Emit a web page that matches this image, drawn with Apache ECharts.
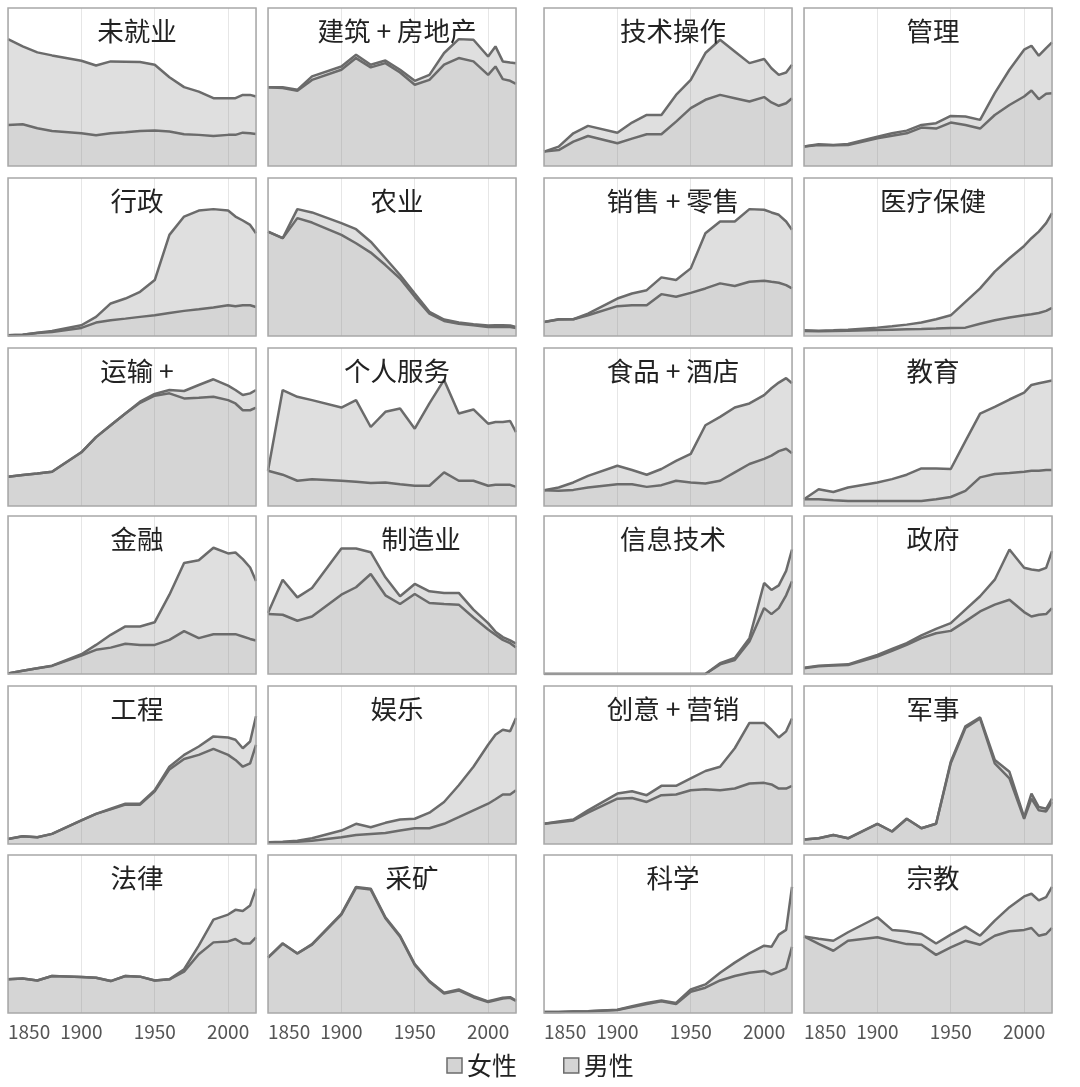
<!DOCTYPE html>
<html>
<head>
<meta charset="utf-8">
<script src="https://cdn.jsdelivr.net/npm/echarts@6/dist/echarts.min.js"></script>
<style>
html,body{margin:0;padding:0;background:#fff;}
#chart{width:1080px;height:1087px;}
</style>
</head>
<body>
<div id="chart"></div>
<script>
// ---- data (share of panel height) ----
const years = [1850,1860,1870,1880,1900,1910,1920,1930,1940,1950,1960,1970,1980,1990,2000,2005,2010,2015,2019];
const xTicks = [1850,1900,1950,2000];
const legendNames = ['女性','男性'];

const titles = ['未就业','建筑 + 房地产','技术操作','管理',
                '行政','农业','销售 + 零售','医疗保健',
                '运输 +','个人服务','食品 + 酒店','教育',
                '金融','制造业','信息技术','政府',
                '工程','娱乐','创意 + 营销','军事',
                '法律','采矿','科学','宗教'];

const unemployedMen = [26.0,26.4,23.9,22.2,20.7,19.5,20.7,21.4,22.2,22.4,21.8,20.1,19.7,19.0,19.7,19.7,21.1,20.7,20.3];
const unemployedWomen = [54.3,49.3,48.0,47.8,45.9,44.1,45.5,44.6,43.6,41.7,34.4,29.8,27.4,23.9,23.2,23.2,23.9,24.3,23.7];
const constructionMen = [49.9,49.3,47.6,54.5,60.9,68.3,62.4,65.1,59.2,51.4,54.5,64.1,68.3,66.2,57.7,63.0,55.0,53.9,52.0];
const constructionWomen = [0.0,0.6,0.6,2.2,2.1,2.1,1.7,1.7,1.7,2.5,3.2,7.4,12.0,13.7,11.6,12.7,11.2,11.6,13.1];
const technicalMen = [9.1,10.1,15.4,19.0,14.4,17.3,20.1,20.1,28.1,36.6,41.9,45.0,42.9,40.8,43.6,40.2,38.1,39.7,42.9];
const technicalWomen = [0.0,2.2,5.3,6.4,6.7,10.2,12.2,12.2,16.9,17.9,29.6,34.9,29.6,24.3,24.1,21.7,19.6,19.5,21.2];
const managementMen = [12.3,13.3,13.1,13.3,17.5,19.2,20.7,24.3,23.7,27.5,26.0,23.7,32.3,38.6,44.0,47.8,42.3,45.7,46.1];
const managementWomen = [0.0,0.4,0.2,0.7,1.1,1.5,1.7,1.7,3.4,4.2,5.3,5.5,13.8,22.3,29.6,28.3,27.5,28.9,32.1];
const adminMen = [0.4,0.8,1.9,2.5,5.1,8.5,10.0,11.0,12.1,13.1,14.6,15.9,16.9,18.0,19.5,18.9,19.5,19.5,18.4];
const adminWomen = [0.0,0.0,0.2,0.7,1.7,3.6,10.6,12.7,15.9,22.3,49.4,59.7,62.5,62.3,59.9,56.7,53.6,50.8,46.6];
const farmMen = [66.1,61.9,74.6,71.8,64.0,58.7,52.8,44.9,36.4,24.8,14.2,9.5,7.8,6.8,5.7,5.7,5.7,5.7,5.1];
const farmWomen = [0.0,0.0,5.7,6.4,7.4,8.9,6.9,4.3,2.2,2.1,1.1,0.9,0.7,0.6,0.9,1.1,1.1,0.9,0.6];
const salesMen = [8.9,10.4,10.6,13.1,18.9,19.5,19.5,26.5,24.8,27.3,30.1,33.3,31.6,34.3,35.0,34.3,33.7,32.2,30.1];
const salesWomen = [0.0,0.2,0.0,1.1,4.8,7.4,9.5,10.6,10.6,15.5,34.9,39.2,40.9,46.0,44.9,43.9,43.0,40.3,37.1];
const healthMen = [3.2,3.0,3.2,3.4,3.8,4.0,4.2,4.4,4.7,5.1,5.3,7.8,10.0,11.7,13.1,13.8,14.6,15.9,17.8];
const healthWomen = [0.4,0.4,0.4,0.6,1.5,2.1,3.0,4.1,5.9,8.0,16.3,22.3,30.7,37.5,43.9,48.1,51.5,55.5,60.0];
const transportMen = [18.5,19.6,20.6,21.7,34.0,43.6,51.1,58.5,65.3,69.8,71.3,68.1,68.5,69.1,67.0,64.9,60.6,60.6,62.3];
const transportWomen = [0,0,0,0,0,0,0,0,0.7,1.1,2.1,4.7,8.1,11.1,9.2,8.5,9.6,10.7,11.1];
const personalMen = [22.3,19.8,16.0,17.0,16.0,15.3,14.5,14.9,13.8,12.8,12.8,21.3,16.0,16.0,12.8,13.4,13.4,13.4,12.1];
const personalWomen = [0.0,53.6,53.1,50.0,46.3,51.7,35.5,44.7,47.9,36.1,52.2,58.5,42.5,45.1,39.3,39.8,39.8,40.4,34.7];
const foodMen = [10.0,9.6,10.2,11.7,13.8,13.8,12.1,13.2,16.0,14.9,14.3,16.0,21.3,26.6,29.8,31.9,34.7,36.2,33.4];
const foodWomen = [0.0,2.1,4.7,7.4,11.7,9.0,7.7,10.2,12.5,18.1,36.8,40.4,41.0,38.3,40.4,42.6,43.4,44.7,44.3];
const educationMen = [4.3,4.3,3.6,3.2,3.2,3.2,3.2,3.2,4.3,5.7,9.6,18.1,20.2,20.9,21.7,22.3,22.3,22.8,22.8];
const educationWomen = [0.0,6.3,5.3,8.5,11.7,13.8,16.6,20.6,19.5,17.7,31.5,40.4,42.6,46.5,50.0,54.3,55.4,55.9,56.6];
const financeMen = [0.4,2.1,3.6,5.1,11.7,15.3,16.7,19.1,18.4,18.4,21.6,27.1,22.7,25.2,25.2,25.2,23.7,22.2,21.2];
const financeWomen = [0,0,0,0.2,0.8,3.1,8.1,11.0,11.7,14.4,28.6,43.2,49.3,54.7,51.1,51.7,49.0,45.2,37.7];
const manufacturingMen = [37.9,37.5,33.7,36.4,50.2,54.9,63.3,49.8,44.3,50.6,44.9,44.3,43.9,35.8,28.2,24.8,21.6,19.5,16.7];
const manufacturingWomen = [0.7,22.2,14.8,18.0,29.2,24.5,13.8,11.4,4.9,6.4,7.4,7.0,7.4,4.9,4.0,2.0,1.8,1.8,2.5];
const itMen = [0,0,0,0,0,0,0,0,0,0,0,6.1,8.9,20.6,41.7,37.9,41.7,49.8,58.7];
const itWomen = [0,0,0,0,0,0,0,0,0,0,0,0.7,1.3,2.1,15.9,15.3,14.4,15.5,20.1];
const governmentMen = [3.6,4.9,5.3,5.7,11.0,14.6,18.4,22.7,25.8,27.3,33.3,39.6,43.9,47.0,39.2,36.4,37.5,37.9,41.7];
const governmentWomen = [0.4,0.4,0.4,0.4,1.1,1.3,1.1,1.7,2.8,4.9,7.4,9.6,15.8,31.8,28.0,29.7,28.0,29.3,36.1];
const engineeringMen = [3.2,4.9,4.3,6.4,14.9,19.1,21.9,24.9,24.9,33.4,47.2,53.8,56.4,60.2,56.4,53.2,48.9,51.1,62.8];
const engineeringWomen = [0,0,0,0,0,0,0.4,0.6,0.6,0.6,1.7,2.6,5.3,7.9,11.0,12.8,11.7,13.8,18.1];
const entertainmentMen = [1.1,1.1,1.5,2.1,4.3,5.7,6.4,7.0,8.5,10.0,10.0,12.8,17.0,21.3,25.5,28.3,31.3,31.3,34.0];
const entertainmentWomen = [0,0.4,0.6,1.5,4.2,7.1,4.2,6.4,7.0,6.0,9.8,13.8,20.2,27.6,37.3,40.8,41.0,40.0,45.8];
const creativeMen = [12.8,13.8,14.9,19.8,28.7,29.1,26.6,30.9,31.3,34.0,34.7,34.0,35.1,38.3,38.7,37.7,35.1,35.1,36.8];
const creativeWomen = [0,0.5,0.6,1.5,3.2,4.3,4.3,5.9,5.5,7.5,11.5,14.9,25.5,38.3,37.9,34.6,32.3,36.2,42.6];
const militaryMen = [2.8,3.6,5.7,3.6,12.8,7.9,16.0,10.0,12.8,51.1,73.4,79.4,51.1,41.5,16.0,28.7,21.3,20.6,26.6];
const militaryWomen = [0,0,0,0,0,0,0,0,0,1.0,1.1,0.8,2.1,4.2,1.0,3.2,2.1,1.7,2.1];
const lawMen = [21.3,21.9,20.6,23.4,22.8,22.3,20.2,23.4,23.0,20.6,21.3,26.2,37.2,44.7,45.3,46.8,44.0,44.0,47.9];
const lawWomen = [0,0,0,0,0,0,0,0,0,0,0,1.5,5.4,14.4,17.0,18.5,20.5,24.1,30.8];
const miningMen = [35.1,44.0,37.7,43.2,62.3,79.2,78.1,60.0,48.3,30.4,19.8,12.4,14.3,10.0,7.0,8.1,9.2,9.6,7.6];
const miningWomen = [0,0,0,0.4,0.5,0.6,0.6,0.6,0.6,0.5,0.4,0.4,0.6,0.6,0.4,0.4,0.4,0.4,0.3];
const scienceMen = [0.6,0.6,0.9,1.1,1.9,3.8,5.7,7.4,5.7,13.4,16.0,20.6,23.4,25.5,26.6,24.5,26.2,28.3,41.9];
const scienceWomen = [0,0,0,0,0.2,0.5,0.7,0.5,0.7,1.5,2.1,4.9,8.5,12.2,16.0,17.4,23.4,24.3,37.9];
const religionMen = [48.5,43.8,39.4,45.7,47.9,45.7,43.6,43.2,36.8,41.5,45.7,43.2,48.9,51.7,52.6,53.8,48.9,50.0,53.8];
const religionWomen = [0,3.2,6.3,5.4,12.7,6.9,8.1,6.8,7.2,8.1,9.0,5.7,9.6,15.3,21.2,21.7,22.4,23.4,26.0];

const menSeries = [unemployedMen,constructionMen,technicalMen,managementMen,
  adminMen,farmMen,salesMen,healthMen,
  transportMen,personalMen,foodMen,educationMen,
  financeMen,manufacturingMen,itMen,governmentMen,
  engineeringMen,entertainmentMen,creativeMen,militaryMen,
  lawMen,miningMen,scienceMen,religionMen];
const womenSeries = [unemployedWomen,constructionWomen,technicalWomen,managementWomen,
  adminWomen,farmWomen,salesWomen,healthWomen,
  transportWomen,personalWomen,foodWomen,educationWomen,
  financeWomen,manufacturingWomen,itWomen,governmentWomen,
  engineeringWomen,entertainmentWomen,creativeWomen,militaryWomen,
  lawWomen,miningWomen,scienceWomen,religionWomen];

// ---- layout ----
const colLeft = [8, 268, 544, 804];
const colWidth = 248;
const rowTop = [8, 178, 348, 516, 686, 855];
const rowHeight = 158;
const titleShift = {'制造业': 24, '采矿': 15};
const FONT = "'Noto Sans CJK SC','Noto Sans',sans-serif";
const LINE = '#6b6b6b';

const chart = echarts.init(document.getElementById('chart'));
const grids = [], xAxes = [], yAxes = [], series = [], titleOpts = [], borders = [];

titles.forEach((name, i) => {
  const r = Math.floor(i / 4), c = i % 4;
  const left = colLeft[c], top = rowTop[r];
  grids.push({left: left, top: top, width: colWidth, height: rowHeight, show: false});
  xAxes.push({type: 'value', gridIndex: i, min: 1850, max: 2019, interval: 50,
    axisLine: {show: false}, axisTick: {show: false},
    splitLine: {show: true, lineStyle: {color: '#e6e6e6', width: 1}},
    axisLabel: {show: r === 5, fontSize: 19, color: '#555', margin: 9, fontFamily: FONT,
      alignMinLabel: 'left', showMinLabel: true, showMaxLabel: false,
      formatter: v => (xTicks.indexOf(v) >= 0 ? String(v) : '')}});
  yAxes.push({type: 'value', gridIndex: i, min: 0, max: 100, show: false});
  titleOpts.push({text: name, left: left + colWidth / 2 + (titleShift[name] || 0), top: top + 5,
    textAlign: 'center',
    textStyle: {fontSize: 26.5, fontWeight: 'normal', color: '#222', fontFamily: FONT}});
  const stackId = 'p' + i;
  // value first, year second, so the stack runs on the value (y) dimension
  series.push({name: '男性', type: 'line', xAxisIndex: i, yAxisIndex: i, stack: stackId,
    data: years.map((y, k) => [menSeries[i][k], y]), encode: {x: 1, y: 0},
    symbol: 'none', showSymbol: false,
    itemStyle: {color: '#d4d4d4'},
    lineStyle: {color: LINE, width: 2.5},
    areaStyle: {color: 'rgba(120,120,120,0.31)', opacity: 1}});
  series.push({name: '女性', type: 'line', xAxisIndex: i, yAxisIndex: i, stack: stackId,
    data: years.map((y, k) => [womenSeries[i][k], y]), encode: {x: 1, y: 0},
    symbol: 'none', showSymbol: false,
    itemStyle: {color: '#dedede'},
    lineStyle: {color: LINE, width: 2.5},
    areaStyle: {color: 'rgba(120,120,120,0.24)', opacity: 1}});
  borders.push({type: 'rect', z: 100, silent: true,
    shape: {x: left, y: top, width: colWidth, height: rowHeight},
    style: {fill: 'none', stroke: '#a8a8a8', lineWidth: 1.5}});
});

chart.setOption({
  animation: false,
  backgroundColor: '#fff',
  title: titleOpts,
  grid: grids,
  xAxis: xAxes,
  yAxis: yAxes,
  series: series,
  graphic: borders,
  legend: {data: legendNames, left: 'center', top: 1048, icon: 'rect',
    itemWidth: 15, itemHeight: 15, itemGap: 46,
    itemStyle: {color: '#d4d4d4', borderColor: LINE, borderWidth: 1.5},
    textStyle: {fontSize: 25, color: '#222', fontFamily: FONT}}
});
</script>
</body>
</html>
